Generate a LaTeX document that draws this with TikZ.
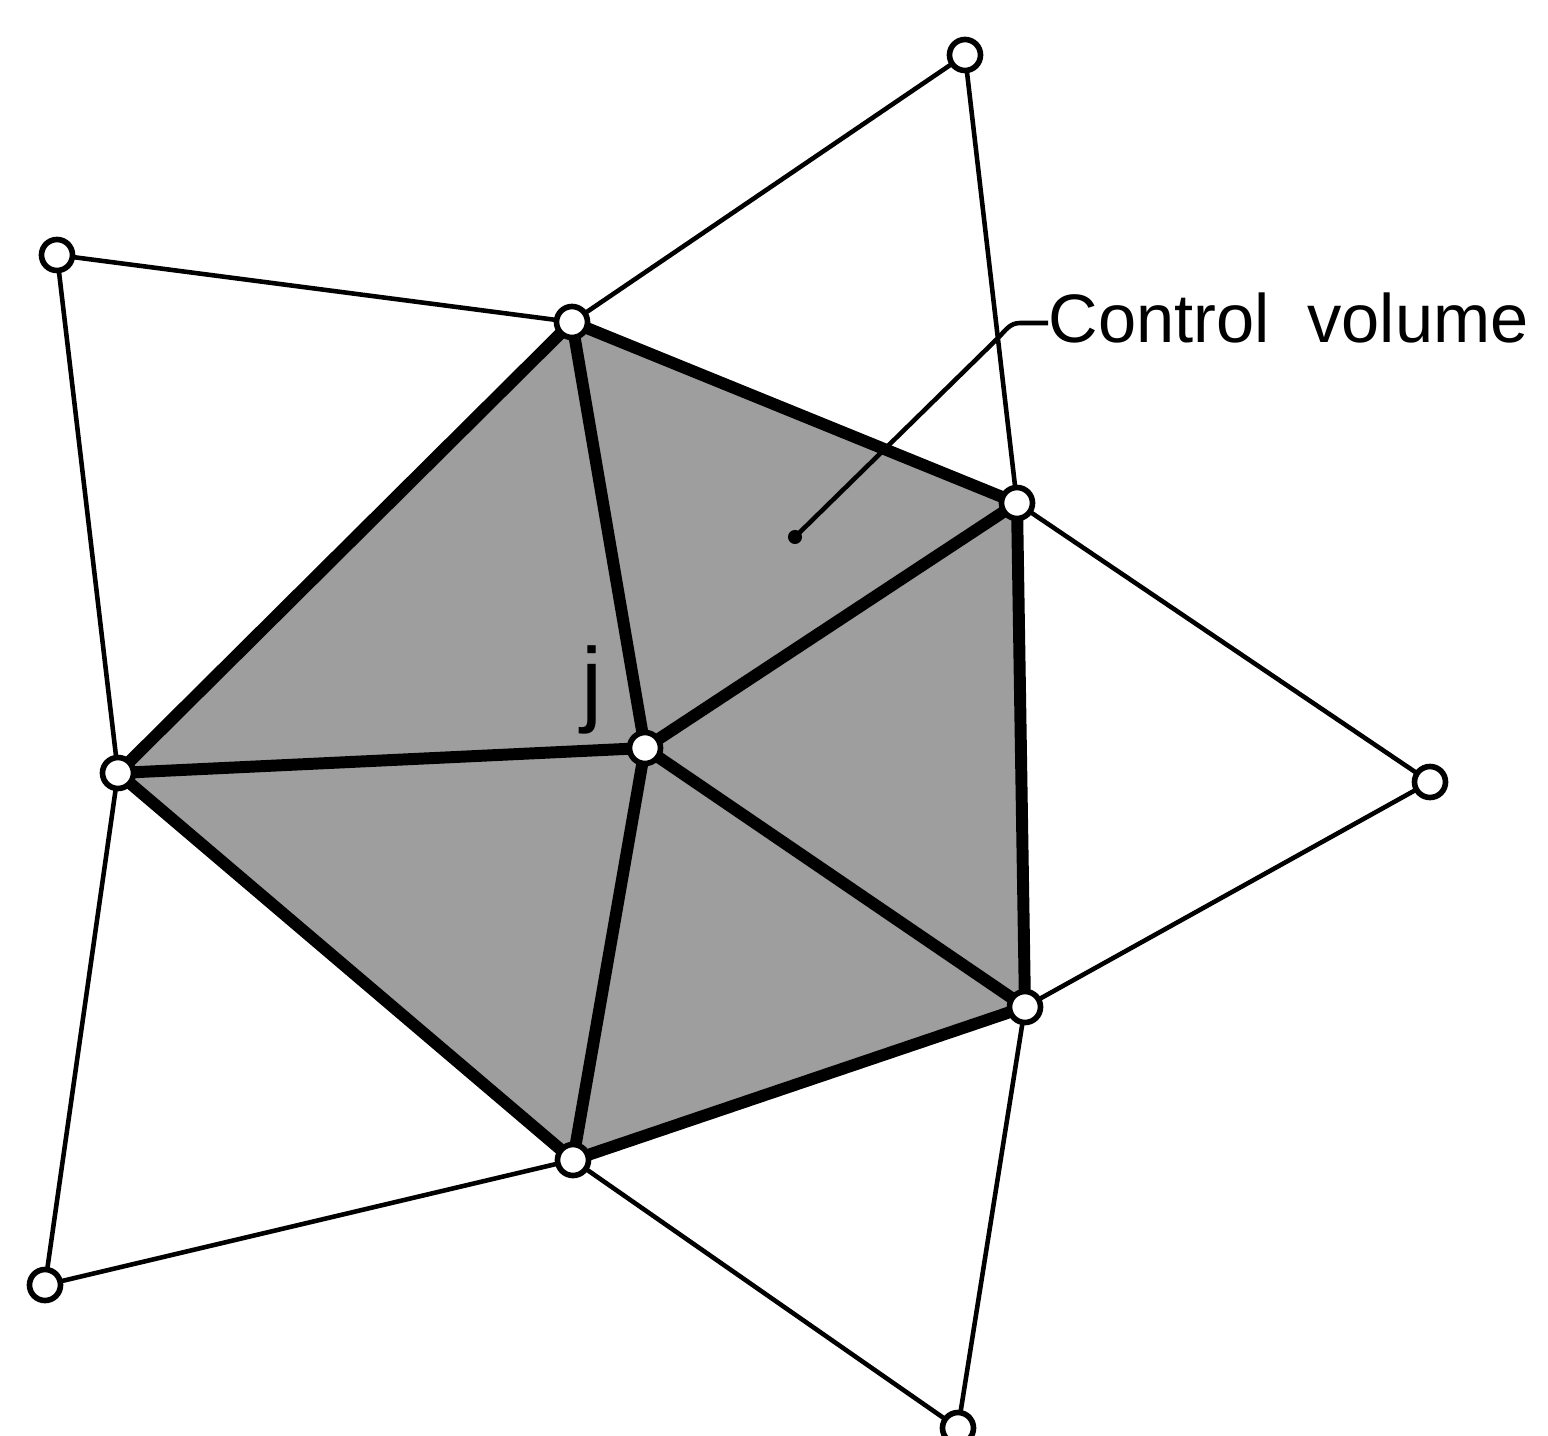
\documentclass[tikz,border=0pt]{standalone}
\usepackage{fontspec}
\setmainfont{Liberation Sans}
\usetikzlibrary{positioning,calc}
\tikzstyle{vertex}=[draw, circle, fill=white, line width=1.6pt, inner sep=0pt, minimum size=0.31cm]
\tikzstyle{thinedge}=[draw, line width=1.3pt]
\tikzstyle{thickedge}=[draw, line width=3.4pt]

\begin{document}
\begin{tikzpicture}[x=0.01cm, y=-0.01cm]
        \useasboundingbox (0,0) rectangle (1548,1436);

                % Define Nodes
                \coordinate (j) at (645,748);
                \coordinate (top) at (572,322);
                \coordinate (upright) at (1017,503);
                \coordinate (lowright) at (1025,1007);
                \coordinate (bottom) at (573,1160);
                \coordinate (left) at (118,773);

                \coordinate (otop) at (965,55);
                \coordinate (oupleft) at (57,255);
                \coordinate (oright) at (1430,782);
                \coordinate (olowleft) at (45,1285);
                \coordinate (obotright) at (958,1428);

                % Shaded control volume
                \fill[black!38] (top) -- (upright) -- (lowright) -- (bottom) -- (left) -- cycle;

                % Draw outer edges
                \draw[thinedge] (oupleft) -- (top);
                \draw[thinedge] (oupleft) -- (left);
                \draw[thinedge] (otop) -- (top);
                \draw[thinedge] (otop) -- (upright);
                \draw[thinedge] (oright) -- (upright);
                \draw[thinedge] (oright) -- (lowright);
                \draw[thinedge] (obotright) -- (lowright);
                \draw[thinedge] (obotright) -- (bottom);
                \draw[thinedge] (olowleft) -- (bottom);
                \draw[thinedge] (olowleft) -- (left);

                % Draw control volume edges
                \draw[thickedge, line join=round] (top) -- (upright) -- (lowright) -- (bottom) -- (left) -- cycle;
                \foreach \n in {top,upright,lowright,bottom,left}
                    \draw[thickedge] (j) -- (\n);

                % Vertices
                \foreach \n in {j,top,upright,lowright,bottom,left,otop,oupleft,oright,olowleft,obotright}
                    \node[vertex] (v\n) at (\n) {};

                % Labels
                \node (jlabel) [font=\fontsize{27}{30}\selectfont, inner sep=0pt] at (592,690) {j};
                \node (cvlabel) [anchor=west, inner sep=0pt, font=\fontsize{19.5}{24}\selectfont] at (1048,318) {Control\hspace{0.55em}volume};

                % Leader to control volume
                \coordinate (cvpt) at (795,537);
                \draw[line width=1.3pt] (cvlabel.west |- 0,323) -- ++(-28,0) to[out=180, in=45] (998,338) -- (cvpt);
                \fill (cvpt) circle (2pt);

            \end{tikzpicture}
\end{document}
